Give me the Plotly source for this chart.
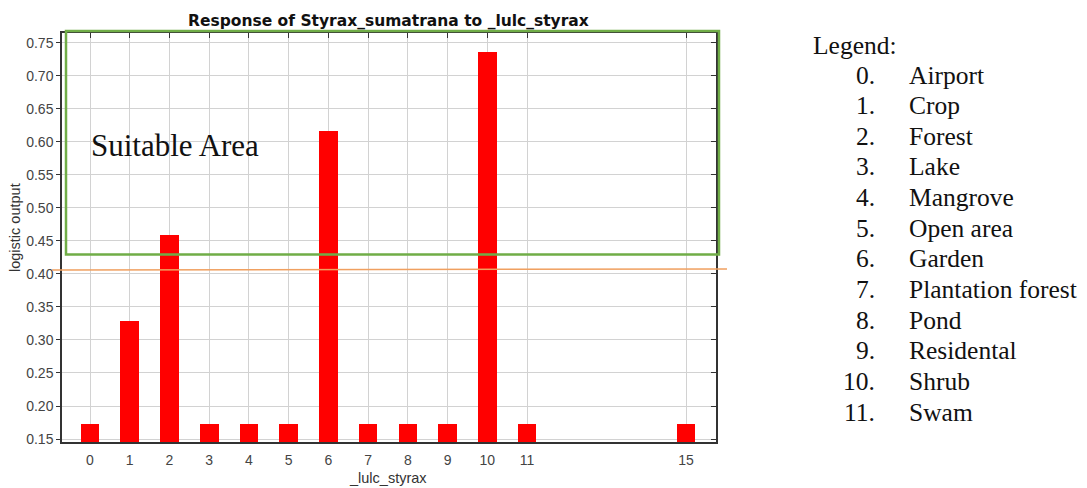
import plotly.graph_objects as go

categories = [0, 1, 2, 3, 4, 5, 6, 7, 8, 9, 10, 11, 15]
values = [0.173, 0.329, 0.459, 0.173, 0.173, 0.173, 0.617, 0.173, 0.173, 0.173, 0.736, 0.173, 0.173]
y_ticks = [0.15, 0.20, 0.25, 0.30, 0.35, 0.40, 0.45, 0.50, 0.55, 0.60, 0.65, 0.70, 0.75]
legend_labels = ["Airport", "Crop", "Forest", "Lake", "Mangrove", "Open area", "Garden",
                 "Plantation forest", "Pond", "Residental", "Shrub", "Swam"]
threshold = 0.406
y_min, y_max = 0.1455, 0.7647
x_min, x_max = -0.705, 15.755

# the page body has an 8px margin; figure coordinates are page coordinates minus OFF
OFF = 8
W, H = 1087 - OFF, 488 - OFF
L, T = 62 - OFF, 33 - OFF
R, B = W - (716 - OFF), H - (442 - OFF)
PW, PH = W - L - R, H - T - B


def px(x):
    return (x - OFF - L) / PW


def py(y):
    return (H - B - (y - OFF)) / PH


fig = go.Figure()
fig.add_trace(go.Bar(
    x=categories, y=[v - y_min for v in values], base=y_min,
    width=0.47, marker=dict(color="#ff0000", line=dict(width=0)),
    showlegend=False, hoverinfo="skip",
))
fig.add_trace(go.Scatter(x=[None], y=[None], xaxis="x2", yaxis="y2", showlegend=False))

sans = "Liberation Sans, Arial, sans-serif"
tick_font = dict(family=sans, size=14, color="#444444")
title_font = dict(family=sans, size=14.5, color="#333333")
common = dict(showline=True, linecolor="#333333", linewidth=1.5, zeroline=False, automargin=False)

fig.update_layout(
    width=W, height=H,
    margin=dict(l=L, r=R, t=T, b=B),
    paper_bgcolor="white", plot_bgcolor="white",
    xaxis=dict(range=[x_min, x_max], tickvals=categories, ticktext=[str(c) for c in categories],
               showgrid=True, gridcolor="#d2d2d2", gridwidth=1.2,
               ticks="", tickfont=tick_font, mirror=True, ticklabelstandoff=4, **common),
    yaxis=dict(range=[y_min, y_max], tickvals=y_ticks, ticktext=[f"{t:.2f}" for t in y_ticks],
               showgrid=True, gridcolor="#d2d2d2", gridwidth=1.2,
               ticks="outside", ticklen=4, tickcolor="#333333", tickfont=tick_font, mirror=True,
               **common),
    xaxis2=dict(overlaying="x", side="top", range=[x_min, x_max], tickvals=categories,
                showticklabels=False, showgrid=False, ticks="inside", ticklen=5,
                tickcolor="#333333", **common),
    yaxis2=dict(overlaying="y", side="right", range=[y_min, y_max], tickvals=y_ticks,
                showticklabels=False, showgrid=False, ticks="inside", ticklen=5,
                tickcolor="#333333", **common),
    bargap=0,
)

# Chart title and axis titles
fig.add_annotation(text="<b>Response of Styrax_sumatrana to _lulc_styrax</b>",
                   xref="paper", yref="paper", x=px(388), y=py(21),
                   xanchor="center", yanchor="middle", showarrow=False,
                   font=dict(family="DejaVu Sans, Verdana, sans-serif", size=15.5, color="#111111"))
fig.add_annotation(text="_lulc_styrax", xref="paper", yref="paper", x=px(388), y=py(478),
                   xanchor="center", yanchor="middle", showarrow=False, font=title_font)
fig.add_annotation(text="logistic output", xref="paper", yref="paper", x=px(15), y=py(228),
                   xanchor="center", yanchor="middle", showarrow=False, textangle=-90,
                   font=title_font)

# Threshold line (orange)
fig.add_shape(type="line", xref="paper", yref="y",
              x0=px(52), x1=px(727), y0=threshold, y1=threshold + 0.0015,
              line=dict(color="#f0a060", width=1.5), layer="above")
# Suitable area rectangle (green)
fig.add_shape(type="rect", xref="paper", yref="paper",
              x0=px(66), x1=px(719), y0=py(254.5), y1=py(31),
              line=dict(color="#70ad47", width=2.5), fillcolor="rgba(0,0,0,0)", layer="above")

serif_big = dict(family="Liberation Serif, Times New Roman, serif", size=31, color="#111111")
fig.add_annotation(text="Suitable Area", xref="paper", yref="paper",
                   x=px(89), y=py(145), xanchor="left", yanchor="middle",
                   showarrow=False, font=serif_big)

serif = dict(family="Liberation Serif, Times New Roman, serif", size=25.5, color="#111111")
fig.add_annotation(text="Legend:", xref="paper", yref="paper",
                   x=px(811), y=py(45), xanchor="left", yanchor="middle",
                   showarrow=False, font=serif)
for i, lab in enumerate(legend_labels):
    yy = py(75 + i * 30.65)
    fig.add_annotation(text=f"{i}.", xref="paper", yref="paper",
                       x=px(877), y=yy, xanchor="right", yanchor="middle",
                       showarrow=False, font=serif)
    fig.add_annotation(text=lab, xref="paper", yref="paper",
                       x=px(907), y=yy, xanchor="left", yanchor="middle",
                       showarrow=False, font=serif)

fig.write_html("out.html")
